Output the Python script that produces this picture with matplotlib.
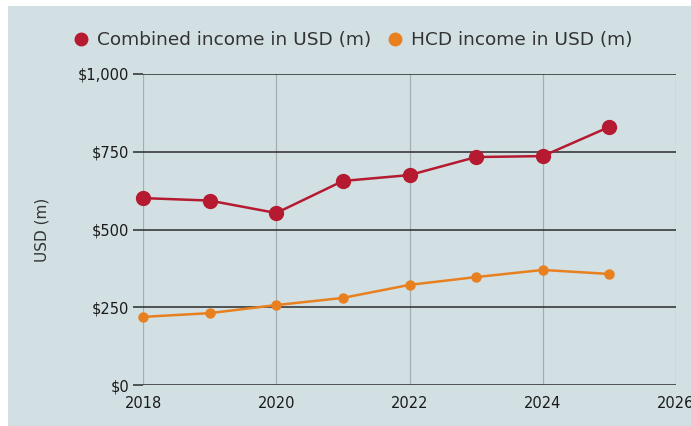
import matplotlib.pyplot as plt
import matplotlib.ticker as mticker
from matplotlib.patches import Rectangle

years = [2018, 2019, 2020, 2021, 2022, 2023, 2024, 2025]
combined = [601, 593, 553, 656, 675, 733, 736, 830]
hcd = [219, 231, 257, 280, 322, 347, 370, 357]

bg = "#d2e0e4"
red = "#b51a30"
orange = "#e8801f"

fig = plt.figure(figsize=(6.91, 4.26), dpi=100)
fig.patch.set_facecolor("white")
# panel background with the thin white margin at top and left
fig.patches.append(Rectangle((8 / 691, 0), 1, 1 - 6 / 426, transform=fig.transFigure,
                             facecolor=bg, edgecolor="none", zorder=-10))

ax = fig.add_axes([143 / 691, 1 - 385 / 426, 533 / 691, 311 / 426])
ax.set_facecolor("none")

ax.plot(years, combined, color=red, lw=1.8, marker="o", ms=10,
        label="Combined income in USD (m)", zorder=3, clip_on=False)
ax.plot(years, hcd, color=orange, lw=1.8, marker="o", ms=6.5,
        label="HCD income in USD (m)", zorder=3, clip_on=False)

ax.set_xlim(2018, 2026)
ax.set_ylim(0, 1000)
ax.set_xticks([2018, 2020, 2022, 2024, 2026])
ax.set_yticks([0, 250, 500, 750, 1000])
ax.yaxis.set_major_formatter(mticker.FuncFormatter(lambda v, p: "${:,.0f}".format(v)))

for s in ax.spines.values():
    s.set_visible(False)

ax.grid(axis="y", color="#2b2b2b", lw=1.1)
ax.grid(axis="x", color="#a4adb1", lw=0.9)
ax.set_axisbelow(True)

ax.tick_params(axis="y", length=7, width=1.1, color="#2b2b2b", labelsize=10.5,
               labelcolor="#1a1a1a", pad=3)
ax.tick_params(axis="x", length=0, labelsize=10.5, labelcolor="#1a1a1a", pad=8)

ax.set_ylabel("USD (m)", fontsize=11, color="#333333", labelpad=20)

leg = fig.legend(loc="center", bbox_to_anchor=(0.512, 1 - 40 / 426), ncol=2,
                 frameon=False, fontsize=13.3, handlelength=0.6, handletextpad=0.55,
                 columnspacing=1.0, labelcolor="#333333")
for h in leg.legend_handles:
    h.set_linestyle("none")
    h.set_markersize(9)

fig.savefig("out.png", dpi=100)
